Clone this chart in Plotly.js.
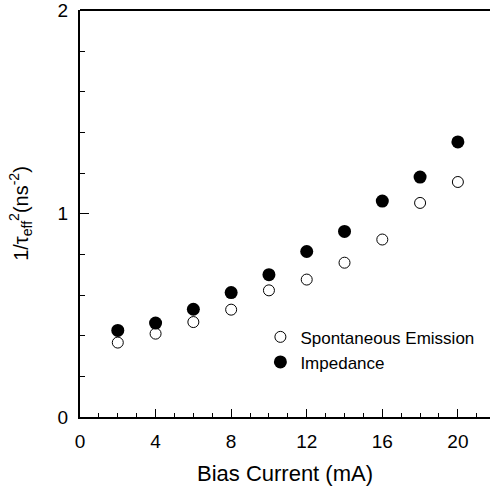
<!DOCTYPE html>
<html>
<head>
<meta charset="utf-8">
<script src="https://cdn.plot.ly/plotly-3.0.1.min.js"></script>
<style>html,body{margin:0;padding:0;background:#fff;}#chart{width:490px;height:489px;}</style>
</head>
<body>
<div id="chart"></div>
<script>
const biasCurrent = [2, 4, 6, 8, 10, 12, 14, 16, 18, 20];
const spontaneousEmission = [0.366, 0.410, 0.467, 0.528, 0.623, 0.676, 0.759, 0.873, 1.053, 1.156];
const impedance = [0.426, 0.462, 0.530, 0.612, 0.700, 0.814, 0.913, 1.062, 1.180, 1.353];
const xTickVals = [0, 4, 8, 12, 16, 20];
const yTickVals = [0, 1, 2];

const FONT = "Liberation Sans, Arial, sans-serif";

const traces = [
  {
    x: biasCurrent, y: spontaneousEmission, name: "Spontaneous Emission",
    type: "scatter", mode: "markers",
    marker: {symbol: "circle-open", size: 11, color: "#000", line: {width: 1, color: "#000"}}
  },
  {
    x: biasCurrent, y: impedance, name: "Impedance",
    type: "scatter", mode: "markers",
    marker: {symbol: "circle", size: 13, color: "#000"}
  }
];

const layout = {
  width: 490, height: 489,
  margin: {l: 80, r: 0, t: 10, b: 72},
  paper_bgcolor: "#fff", plot_bgcolor: "#fff",
  font: {family: FONT, color: "#000"},
  showlegend: true,
  legend: {
    x: 0.44, y: 0.24, xanchor: "left", yanchor: "top",
    font: {family: FONT, size: 17, color: "#000"},
    bgcolor: "rgba(0,0,0,0)", borderwidth: 0
  },
  xaxis: {
    range: [0, 21.7],
    tickvals: xTickVals, ticktext: xTickVals.map(String),
    ticks: "inside", ticklen: 8, tickwidth: 1, tickcolor: "#000",
    minor: {dtick: 1, ticks: "inside", ticklen: 4, tickwidth: 1, tickcolor: "#000"},
    showline: true, linewidth: 2, linecolor: "#000", mirror: false,
    showgrid: false, zeroline: false,
    tickfont: {family: FONT, size: 19, color: "#000"},
    ticklabelstandoff: 6,
    title: {text: "Bias Current (mA)", font: {family: FONT, size: 22, color: "#000"}, standoff: 15}
  },
  yaxis: {
    range: [0, 2.002],
    tickvals: yTickVals, ticktext: yTickVals.map(String),
    ticks: "inside", ticklen: 9, tickwidth: 1, tickcolor: "#000",
    minor: {dtick: 0.2, ticks: "inside", ticklen: 5, tickwidth: 1, tickcolor: "#000"},
    showline: true, linewidth: 2, linecolor: "#000",
    showgrid: false, zeroline: false,
    tickfont: {family: FONT, size: 19, color: "#000"},
    ticklabelstandoff: 6,
    title: {text: "1/τ<sub>eff</sub><sup>2</sup>(ns<sup>-2</sup>)", font: {family: FONT, size: 20, color: "#000"}, standoff: 24}
  },
  shapes: [
    {type: "line", xref: "paper", yref: "paper", x0: 0, x1: 1, y0: 1, y1: 1, line: {color: "#000", width: 2}}
  ]
};

Plotly.newPlot("chart", traces, layout, {displayModeBar: false, staticPlot: true});
</script>
</body>
</html>
